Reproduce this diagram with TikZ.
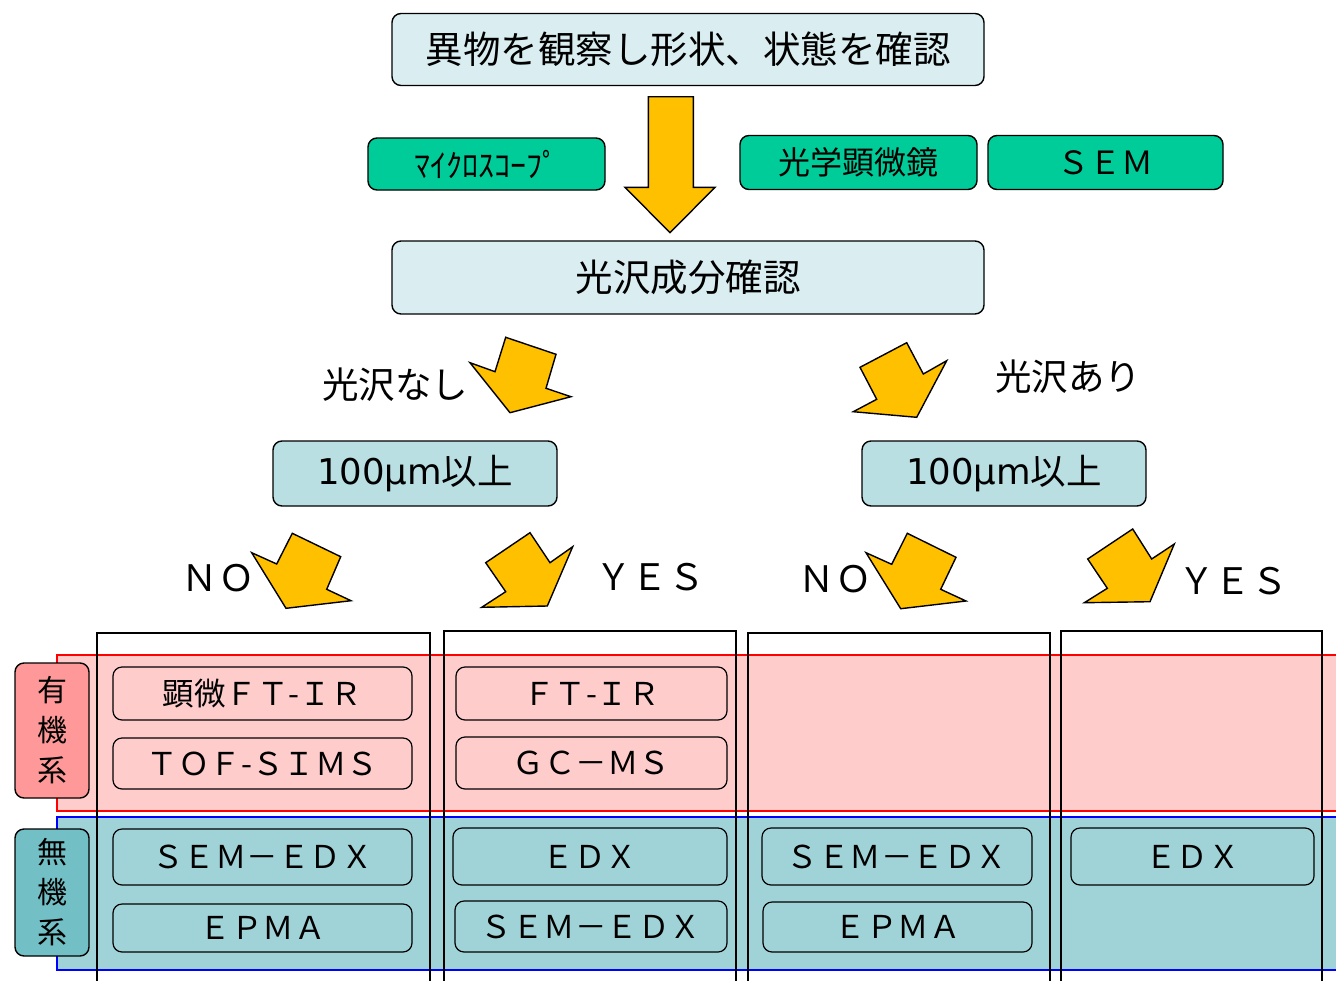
\documentclass[tikz,border=0pt]{standalone}
\usepackage{fontspec}
\setmainfont{DejaVu Sans}
\newfontfamily\jpfont{Noto Sans CJK JP}
\usetikzlibrary{positioning}

\definecolor{obsfill}{HTML}{DAEEF2}
\definecolor{toolgreen}{HTML}{00CC99}
\definecolor{sizefill}{HTML}{B9DFE3}
\definecolor{orgband}{HTML}{FFCCCC}
\definecolor{inorgband}{HTML}{A0D3D8}
\definecolor{orglabel}{HTML}{FF9999}
\definecolor{inorglabel}{HTML}{72BFC5}
\definecolor{arrowfill}{HTML}{FFC000}

\tikzset{
  stepbox/.style={draw=black, line width=1.4pt, rounded corners=9pt, inner sep=0pt, align=center},
  obsbox/.style={stepbox, fill=obsfill, minimum width=592pt, minimum height=72pt, font=\jpfont\fontsize{37.5}{40}\selectfont},
  toolbox/.style={stepbox, fill=toolgreen, minimum width=236pt, minimum height=54pt, font=\jpfont\fontsize{32}{34}\selectfont},
  sizebox/.style={stepbox, fill=sizefill, minimum width=284pt, minimum height=65pt, font=\fontsize{35.5}{38}\selectfont},
  methbox/.style={stepbox, line width=1.2pt, font=\jpfont\fontsize{31.5}{34}\selectfont},
  grouplab/.style={stepbox, minimum width=74pt, font=\jpfont\fontsize{30}{40}\selectfont},
  branchlab/.style={inner sep=0pt, font=\jpfont\fontsize{36.5}{40}\selectfont},
  yarrow/.style={fill=arrowfill, draw=black, line width=1.4pt, line join=miter},
  column/.style={draw=black, line width=1.4pt}
}

\begin{document}
\begin{tikzpicture}[x=1pt, y=-1pt]
  \useasboundingbox (0,0) rectangle (1336,980);

  % top part
  \node[obsbox] (obs) at (688,49.5) {異物を観察し形状、状態を確認};
  \node[obsbox, minimum height=73pt] (gloss) at (688,277.5) {光沢成分確認};
  \node[toolbox, minimum width=237pt, minimum height=52pt] (micro) at (486.5,164) {ﾏｲｸﾛｽｺｰﾌﾟ};
  \node[toolbox, minimum width=237pt] (optical) at (858.5,162.5) {光学顕微鏡};
  \node[toolbox, minimum width=235pt] (sem) at (1105.5,162.5) {ＳＥＭ};
  \draw[yarrow] (648.3,96.7) -- (693.3,96.7) -- (693.3,187.3) -- (715,187.3)
    -- (670,232.7) -- (625,187.3) -- (648.3,187.3) -- cycle;

  % gloss branches
  \node[branchlab] (nogloss) at (395,385) {光沢なし};
  \node[branchlab] (hasgloss) at (1068,377) {光沢あり};
  \draw[yarrow] (505.7,337.3) -- (556,354.3) -- (546,388.3) -- (571,396.7)
    -- (510,412.7) -- (470,362.7) -- (495,371.7) -- cycle;
  \draw[yarrow] (906.7,342.7) -- (923.3,374) -- (946.7,360.7) -- (916.7,417.3)
    -- (853.3,411.7) -- (876.7,399.3) -- (860,367.3) -- cycle;

  \node[sizebox] (sizeL) at (415,473.5) {100μm{\jpfont 以上}};
  \node[sizebox] (sizeR) at (1004,473.5) {100μm{\jpfont 以上}};

  % size branches
  \node[branchlab] (noL) at (218,578) {ＮＯ};
  \node[branchlab] (yesL) at (650,577) {ＹＥＳ};
  \node[branchlab] (noR) at (835,579) {ＮＯ};
  \node[branchlab] (yesR) at (1233,581) {ＹＥＳ};
  \draw[yarrow] (292.3,533.3) -- (340.7,556.7) -- (326.7,589.3) -- (351,600.7)
    -- (286,608.3) -- (251.7,552.7) -- (276.7,564) -- cycle;
  \draw[yarrow] (530,532.7) -- (550,562.7) -- (572.7,546.7) -- (547.3,606)
    -- (481.7,607.3) -- (505.7,591.7) -- (485.7,562.7) -- cycle;
  \draw[yarrow] (907.3,533.3) -- (956,557.3) -- (940.7,589.3) -- (966,601)
    -- (900.7,608.7) -- (866,552.7) -- (891.7,564.3) -- cycle;
  \draw[yarrow] (1132.7,529) -- (1151.7,559) -- (1174.3,544) -- (1150,601.7)
    -- (1084.3,602.7) -- (1107.3,588.3) -- (1087.7,559) -- cycle;

  % bands
  \draw[red, line width=1.4pt, fill=orgband] (57,655) rectangle (1345,811);
  \draw[blue, line width=1.4pt, fill=inorgband] (57,817) rectangle (1345,970);
  \node[grouplab, fill=orglabel, minimum height=135pt] (organic) at (52,730.5) {有\\機\\系};
  \node[grouplab, fill=inorglabel, minimum height=127pt] (inorganic) at (52,892.5) {無\\機\\系};

  % columns
  \draw[column] (97,995) -- (97,633) -- (430,633) -- (430,995);
  \draw[column] (444,995) -- (444,631) -- (736,631) -- (736,995);
  \draw[column] (748,995) -- (748,633) -- (1050,633) -- (1050,995);
  \draw[column] (1061,995) -- (1061,631) -- (1322,631) -- (1322,995);

  % methods
  \node[methbox, minimum width=299pt, minimum height=53pt] (ftirM) at (262.5,693.5) {顕微ＦＴ-ＩＲ};
  \node[methbox, minimum width=299pt, minimum height=51pt] (tof) at (262.5,763.5) {ＴＯＦ-ＳＩＭＳ};
  \node[methbox, minimum width=299pt, minimum height=56pt] (semA) at (262.5,857) {ＳＥＭ－ＥＤＸ};
  \node[methbox, minimum width=299pt, minimum height=48pt] (epmaA) at (262.5,928) {ＥＰＭＡ};

  \node[methbox, minimum width=271pt, minimum height=53pt] (ftir) at (591.5,693.5) {ＦＴ-ＩＲ};
  \node[methbox, minimum width=271pt, minimum height=52pt] (gcms) at (591.5,763) {ＧＣ－ＭＳ};
  \node[methbox, minimum width=274pt, minimum height=57pt] (edxB) at (590,856.5) {ＥＤＸ};
  \node[methbox, minimum width=272pt, minimum height=51pt] (semB) at (591,926.5) {ＳＥＭ－ＥＤＸ};

  \node[methbox, minimum width=270pt, minimum height=57pt] (semC) at (897,856.5) {ＳＥＭ－ＥＤＸ};
  \node[methbox, minimum width=269pt, minimum height=50pt] (epmaC) at (897.5,927) {ＥＰＭＡ};

  \node[methbox, minimum width=243pt, minimum height=57pt] (edxD) at (1192.5,856.5) {ＥＤＸ};
\end{tikzpicture}
\end{document}
